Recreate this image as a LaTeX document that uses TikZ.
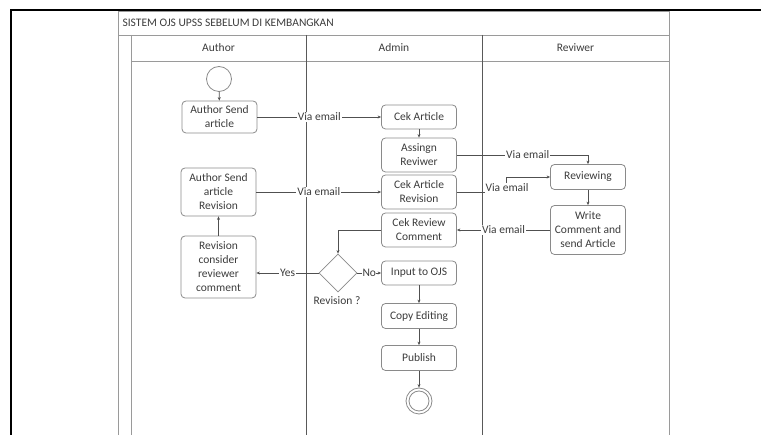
\documentclass[tikz,border=0pt]{standalone}
\usepackage{fontspec}
\setmainfont{Carlito}
\usetikzlibrary{arrows.meta,shapes.geometric}
\definecolor{ink}{HTML}{3C3C3C}
\definecolor{boxline}{HTML}{8A8A8A}
\definecolor{laneline}{HTML}{9A9A9A}
\definecolor{flow}{HTML}{505050}

\begin{document}
\begin{tikzpicture}[x=1pt,y=-1pt,
  every node/.style={font=\fontsize{11.5}{14}\selectfont, text=ink},
  act/.style={draw=boxline, line width=0.8pt, rounded corners=4pt,
    minimum width=75pt, align=center, inner sep=0pt},
  startdot/.style={circle, draw=boxline, line width=0.8pt, inner sep=0pt},
  decision/.style={diamond, draw=boxline, line width=0.8pt, inner sep=0pt,
    minimum width=38pt, minimum height=38pt},
  flowline/.style={draw=flow, line width=0.7pt},
  arr/.style={flowline, -{Stealth[length=3.5pt,width=3pt]}},
  lbl/.style={fill=white, inner sep=1pt},
  lane/.style={draw=laneline, line width=0.8pt},
  divider/.style={draw=black!65, line width=0.8pt},
  frame/.style={draw=black, line width=1.5pt}
]
\useasboundingbox (0,0) rectangle (761,435);

% page frame
\draw[frame] (11,435) -- (11,10) -- (761,10);

% swimlane pool
\draw[lane] (118,435) -- (118,11) -- (669,11) -- (669,435);
\draw[lane] (118,35) -- (669,35);
\draw[lane] (131,35) -- (131,435);
\draw[lane] (131,61) -- (669,61);
\draw[divider] (306,35) -- (306,435);
\draw[divider] (482,35) -- (482,435);

\node[anchor=west] (title) at (119,22.5) {SISTEM OJS UPSS SEBELUM DI KEMBANGKAN};
\node (hauthor) at (218.5,48) {Author};
\node (hadmin) at (394,48) {Admin};
\node (hreviewer) at (575.5,48) {Reviwer};

% Author lane
\node[startdot, minimum size=25pt] (start) at (219,79) {};
\node[act, minimum height=32pt] (send) at (219.5,117) {Author Send\\article};
\node[act, minimum height=48pt] (sendrev) at (218.5,192) {Author Send\\article\\Revision};
\node[act, minimum height=62pt] (consider) at (218.5,267) {Revision\\consider\\reviewer\\comment};

% Admin lane
\node[act, minimum height=24pt] (cek) at (419,117) {Cek Article};
\node[act, minimum height=34pt] (assign) at (419,155) {Assingn\\Reviwer};
\node[act, minimum height=34pt] (cekrev) at (419,192) {Cek Article\\Revision};
\node[act, minimum height=34pt] (cekcom) at (419,230) {Cek Review\\Comment};
\node[decision] (dec) at (338,273) {};
\node (declbl) at (337,301) {Revision ?};
\node[act, minimum height=24pt] (ojs) at (419,273) {Input to OJS};
\node[act, minimum height=25pt] (copy) at (419,316) {Copy Editing};
\node[act, minimum height=25pt] (pub) at (419,358) {Publish};
\node[startdot, minimum size=26pt] (stop) at (419,401) {};
\node[startdot, minimum size=20pt] (stopin) at (419,401) {};

% Reviewer lane
\node[act, minimum height=25pt] (review) at (588,177) {Reviewing};
\node[act, minimum height=49pt] (write) at (588,230) {Write\\Comment and\\send Article};

% flows
\draw[arr] (start) -- (send);
\draw[arr] (send) -- node[lbl] (m1) {Via email} (cek);
\draw[arr] (cek) -- (assign);
\draw[arr] (assign.east) -- node[lbl, pos=0.54] (m2) {Via email} (assign.east -| review) -- (review);
\coordinate (b1) at (506,192);
\coordinate (b2) at (506,177);
\draw[arr] (cekrev.east) -- (b1) -- (b2) -- (review.west);
\node[lbl] (m3) at (507,188) {Via email};
\draw[arr] (review) -- (write);
\draw[arr] (write) -- node[lbl] (m4) {Via email} (cekcom);
\draw[arr] (cekcom.west) -| (dec.north);
\draw[arr] (dec.east) -- node[lbl, inner sep=0.5pt] (m5) {No} (ojs.west);
\draw[arr] (dec.west) -- node[lbl] (m6) {Yes} (dec.west -| consider.east);
\draw[arr] (consider) -- (sendrev);
\draw[arr] (sendrev) -- node[lbl] (m7) {Via email} (cekrev);
\draw[arr] (ojs) -- (copy);
\draw[arr] (copy) -- (pub);
\draw[arr] (pub) -- (stop);
\end{tikzpicture}
\end{document}
